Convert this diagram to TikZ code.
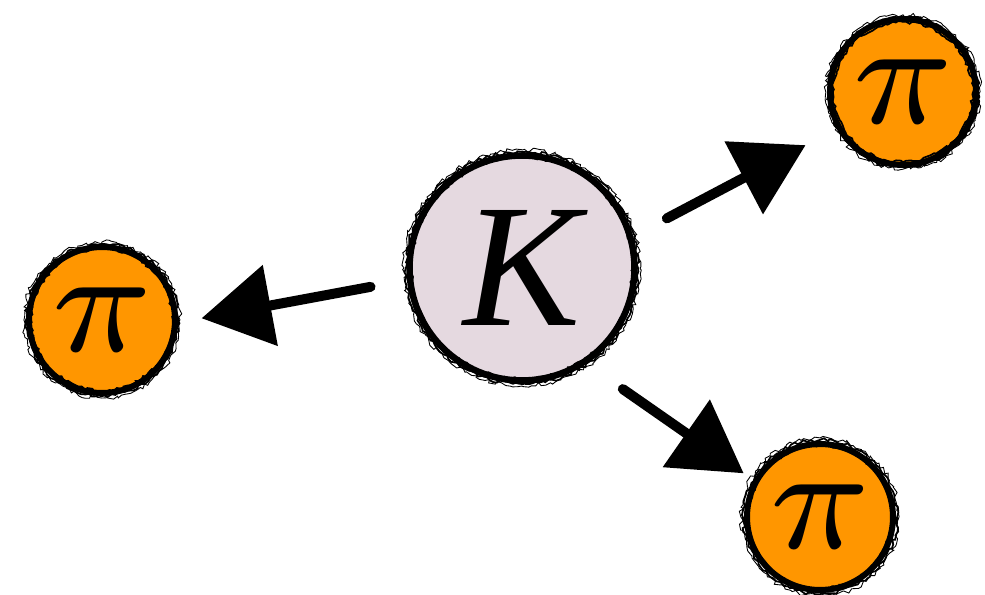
\documentclass[tikz,border=0pt]{standalone}
\usepackage{amsmath}
\usepackage{graphicx}
\usepackage{fontspec}
\setmainfont{Liberation Serif}
\usetikzlibrary{arrows.meta,decorations.pathmorphing}
\definecolor{kfill}{RGB}{229,217,224}
\definecolor{pifill}{RGB}{255,150,0}
\newcommand{\bigpi}{\scalebox{12}{$\scriptstyle\pi$}}
\tikzset{
  kaon/.style={circle, draw=black, line width=0.13cm, fill=kfill, inner sep=0pt, minimum size=4.5cm,
    font=\fontsize{100}{100}\selectfont\itshape},
  pion/.style={circle, draw=black, line width=0.12cm, fill=pifill, inner sep=0pt, minimum size=2.92cm},
  rough/.style={draw=black, line width=1pt, decorate,
    decoration={random steps, segment length=2pt, amplitude=1pt}},
  roughthin/.style={draw=black, line width=0.5pt, decorate,
    decoration={random steps, segment length=2pt, amplitude=1.3pt}},
  decay/.style={line width=0.2cm, line cap=round,
    -{Triangle[length=1.4cm, width=1.6cm]}},
}
\begin{document}
\begin{tikzpicture}[x=0.02cm,y=-0.02cm]
\pgfmathsetseed{7}
\useasboundingbox (0,0) rectangle (985,595);
\node[kaon] (K) at (522,268) {K};
\node[pion] (piL) at (102,320) {\bigpi};
\node[pion] (piT) at (903,92) {\bigpi};
\node[pion] (piB) at (820,517) {\bigpi};
% brush texture on borders
\draw[rough] (K) circle[radius=116];
\draw[roughthin] (K) circle[radius=118];
\draw[rough] (K) circle[radius=111];
\draw[rough] (piL) circle[radius=76];
\draw[roughthin] (piL) circle[radius=78];
\draw[rough] (piL) circle[radius=71];
\draw[rough] (piT) circle[radius=75];
\draw[roughthin] (piT) circle[radius=77];
\draw[rough] (piT) circle[radius=70];
\draw[rough] (piB) circle[radius=77];
\draw[roughthin] (piB) circle[radius=79];
\draw[rough] (piB) circle[radius=72];
% decay arrows
\draw[decay, shorten <=0.74cm, shorten >=0.48cm] (K.186) -- (piL.358);
\draw[decay, shorten <=0.76cm, shorten >=0.7cm] (K.16) -- (piT.209);
\draw[decay, shorten <=0.88cm, shorten >=0.24cm] (K.304) -- (piB.151);
\end{tikzpicture}
\end{document}
